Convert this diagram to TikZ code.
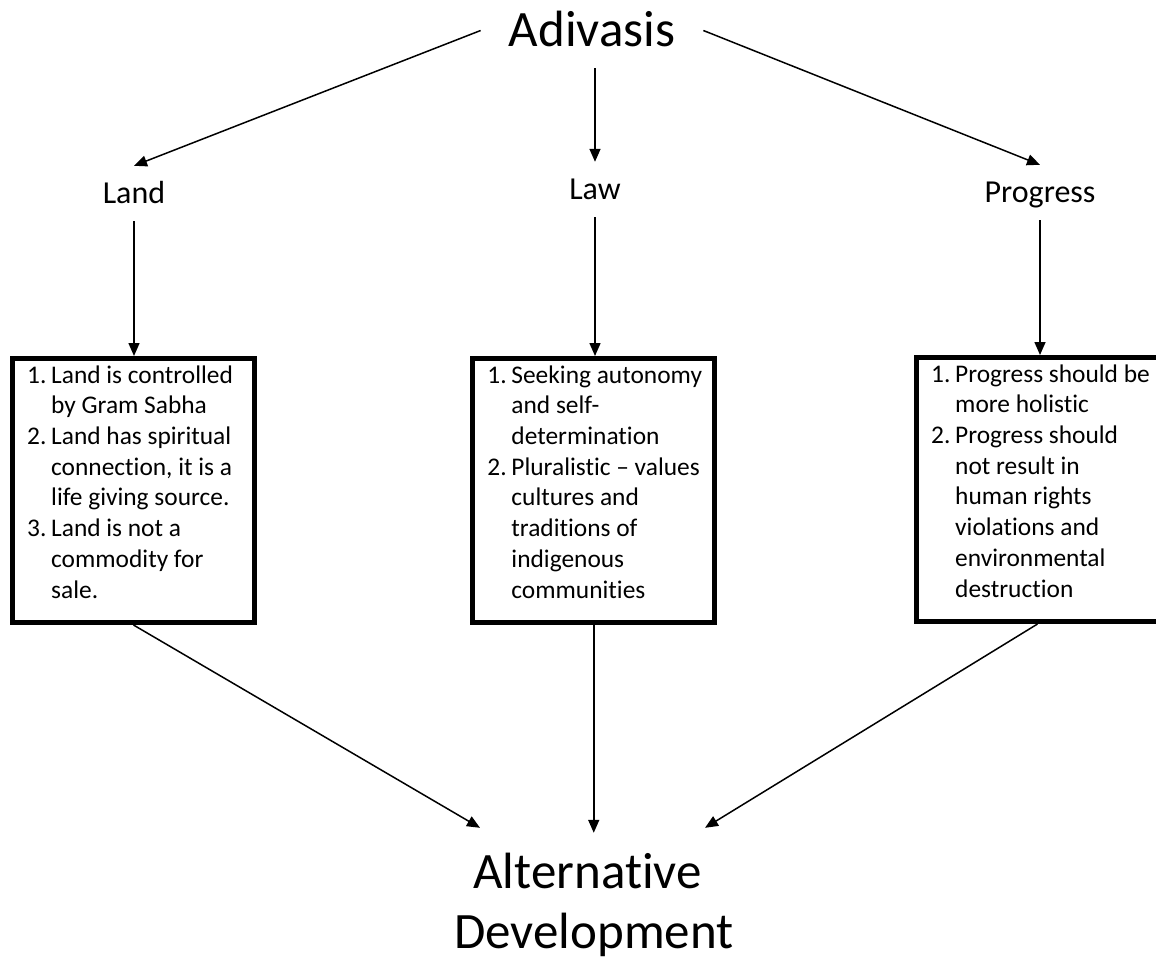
\documentclass[tikz,border=0pt]{standalone}
\usepackage{fontspec}
\setmainfont{Carlito}[Ligatures=NoCommon]
\usetikzlibrary{arrows.meta}
\begin{document}
\begin{tikzpicture}[x=1pt,y=-1pt,
  arr/.style={line width=1.5pt,-{Triangle[length=13pt,width=11pt]}},
  head/.style={font=\fontsize{51}{60}\selectfont, anchor=base,
    inner xsep=28pt, inner ysep=21pt, text height=33pt, text depth=0pt},
  lbl/.style={font=\fontsize{32}{38}\selectfont, anchor=base,
    inner sep=17pt, text height=21pt, text depth=0pt},
  foot/.style={font=\fontsize{51}{60}\selectfont, anchor=base,
    inner sep=20pt, text height=35pt, text depth=0pt},
  box/.style={draw, line width=5pt, minimum width=242pt,
    minimum height=264pt, inner sep=0pt},
  items/.style={font=\fontsize{25.4}{30.7}\selectfont, inner sep=0pt,
    anchor=north west}
]
\useasboundingbox (0,0) rectangle (1156,960);
\newcommand\num[1]{\makebox[24pt][l]{#1}}

% titles
\node[head] (adiv) at (592,47) {Adivasis};
\node[lbl] (land) at (134,204) {Land};
\node[lbl] (law) at (595,200) {Law};
\node[lbl] (prog) at (1040,203) {Progress};
\node[foot] (alt1) at (587.5,888) {Alternative};
\node[foot] (alt2) at (594,948) {Development};

% framed lists
\node[box] (b1) at (133.5,490.5) {};
\node[box] (b2) at (593.75,490.5) {};
\node[box, minimum width=252pt] (b3) at (1042.5,489.5) {};

\node[items] (t1) at ([shift={(17,5.5)}]b1.north west) {%
\begin{tabular}{@{}l@{}l@{}}
\num{1.}&Land is controlled\\
&by Gram Sabha\\
\num{2.}&Land has spiritual\\
&connection, it is a\\
&life giving source.\\
\num{3.}&Land is not a\\
&commodity for\\
&sale.
\end{tabular}};

\node[items] (t2) at ([shift={(17,5.5)}]b2.north west) {%
\begin{tabular}{@{}l@{}l@{}}
\num{1.}&Seeking autonomy\\
&and self-\\
&determination\\
\num{2.}&Pluralistic – values\\
&cultures and\\
&traditions of\\
&indigenous\\
&communities
\end{tabular}};

\node[items] (t3) at ([shift={(17,5.5)}]b3.north west) {%
\begin{tabular}{@{}l@{}l@{}}
\num{1.}&Progress should be\\
&more holistic\\
\num{2.}&Progress should\\
&not result in\\
&human rights\\
&violations and\\
&environmental\\
&destruction
\end{tabular}};

% connectors
\draw[arr] (adiv.west) -- (land.north);
\draw[arr] (adiv.south -| law.north) -- (law.north);
\draw[arr] (adiv.east) -- (prog.north);
\draw[arr] (land.south) -- (land.south |- b1.north);
\draw[arr] (law.south) -- (law.south |- b2.north);
\draw[arr] (prog.south) -- (prog.south |- b3.north);
\draw[arr] (b1.south) -- ([shift={(-107.5,-5)}]alt1.north);
\draw[arr] (b2.south) -- (b2.south |- alt1.north);
\draw[arr] ([xshift=-5pt]b3.south) -- ([shift={(117.5,-5)}]alt1.north);
\end{tikzpicture}
\end{document}
